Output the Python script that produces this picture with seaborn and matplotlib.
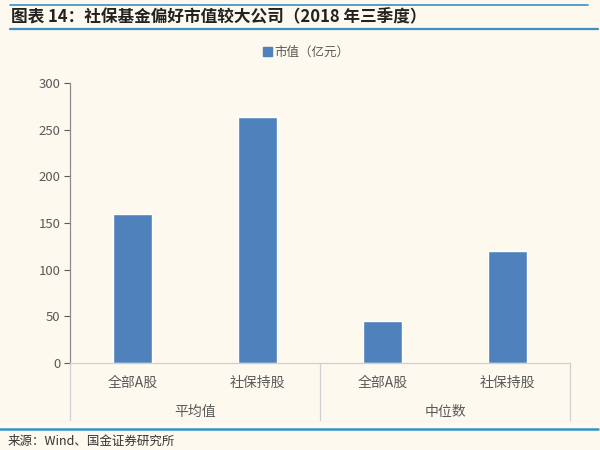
import matplotlib
matplotlib.use("Agg")
import matplotlib.pyplot as plt
import seaborn as sns
import pandas as pd
from matplotlib.patches import Patch
from matplotlib.lines import Line2D

# data
groups = ["平均值", "平均值", "中位数", "中位数"]
subs = ["全部A股", "社保持股", "全部A股", "社保持股"]
values = [160, 264, 45, 120]
series_name = "市值（亿元）"
title = "图表 14：社保基金偏好市值较大公司（2018 年三季度）"
source = "来源：Wind、国金证券研究所"

bg = "#fdf9ee"
bar_color = "#4f81bd"
line_color = "#3b8fc2"
text_color = "#595959"

sns.set_theme(style="white")
plt.rcParams["font.family"] = ["Noto Sans CJK SC", "DejaVu Sans"]

df = pd.DataFrame({"group": groups, "sub": subs, "value": values})
df["key"] = df["group"] + "-" + df["sub"]

fig = plt.figure(figsize=(6, 4.5), dpi=100, facecolor=bg)
ax = fig.add_axes([70 / 600, 1 - 363 / 450, 500 / 600, 280 / 450])
ax.set_facecolor(bg)

sns.barplot(data=df, x="key", y="value", order=list(df["key"]),
            color=bar_color, width=0.315, saturation=1, ax=ax)

ax.set_ylim(0, 300)
ax.set_xlim(-0.5, len(values) - 0.5)
ax.set_yticks(range(0, 301, 50))
ax.tick_params(axis="y", labelsize=9.5, colors=text_color, length=4,
               width=0.8, direction="out", left=True, pad=3)
for lab in ax.get_yticklabels():
    lab.set_color(text_color)
ax.set_xticks([])
ax.set_xlabel("")
ax.set_ylabel("")
for s in ["top", "right"]:
    ax.spines[s].set_visible(False)
ax.spines["left"].set_color("#8c8c8c")
ax.spines["left"].set_linewidth(0.9)
ax.spines["bottom"].set_color("#d0d0d0")
ax.spines["bottom"].set_linewidth(0.9)

# two-level category axis
trans = ax.get_xaxis_transform()
for i, s in enumerate(df["sub"]):
    ax.text(i, -20 / 280, s, transform=trans, ha="center", va="center",
            fontsize=10, color=text_color)
group_names = list(dict.fromkeys(groups))
for g in group_names:
    idx = [i for i, v in enumerate(groups) if v == g]
    ax.text(sum(idx) / len(idx), -49 / 280, g, transform=trans,
            ha="center", va="center", fontsize=10, color=text_color)
for xb in [-0.5, 1.5, 3.5]:
    ax.plot([xb, xb], [0, -57 / 280], transform=trans, color="#d0d0d0",
            lw=0.9, clip_on=False)

# legend
handle = Patch(facecolor=bar_color, edgecolor=bar_color)
fig.legend([handle], [series_name], loc="center", bbox_to_anchor=(306 / 600, 1 - 52 / 450),
           frameon=False, fontsize=9, handlelength=0.7, handleheight=0.7,
           handletextpad=0.2, labelcolor=text_color)

# title and source with rules
fig.add_artist(Line2D([10 / 600, 588 / 600], [1 - 4.5 / 450] * 2, color=line_color, lw=1.2))
fig.add_artist(Line2D([10 / 600, 598 / 600], [1 - 29 / 450] * 2, color=line_color, lw=1.6))
fig.text(11 / 600, 1 - 17 / 450, title, fontsize=12, fontweight="bold",
         fontstyle="italic", color="#222222", ha="left", va="center")
fig.add_artist(Line2D([0, 598 / 600], [1 - 429 / 450] * 2, color="#2f95c8", lw=1.8))
fig.text(8 / 600, 1 - 441 / 450, source, fontsize=9, color="#333333",
         ha="left", va="center")

fig.savefig("out.png", dpi=100, facecolor=bg)
